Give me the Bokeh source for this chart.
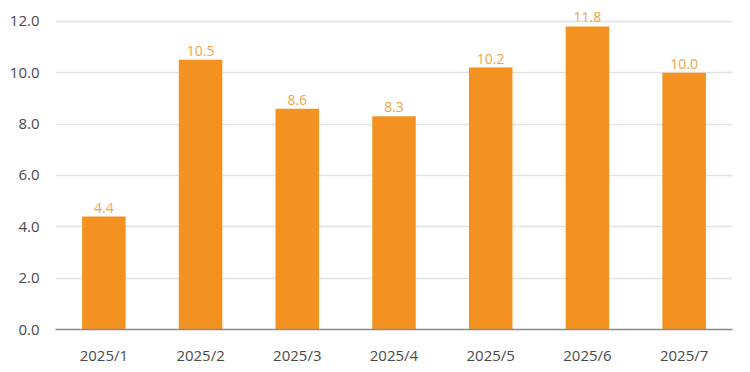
from bokeh.plotting import figure
from bokeh.models import ColumnDataSource, Range1d, FixedTicker, LabelSet, CustomJSTickFormatter
from bokeh.core.properties import value
from bokeh.embed import file_html
from bokeh.resources import INLINE

months = ["2025/1", "2025/2", "2025/3", "2025/4", "2025/5", "2025/6", "2025/7"]
values = [4.4, 10.5, 8.6, 8.3, 10.2, 11.8, 10.0]
y_ticks = [0, 2, 4, 6, 8, 10, 12]

src = ColumnDataSource(dict(x=months, y=values, lbl=[f"{v:.1f}" for v in values]))

p = figure(x_range=months, y_range=Range1d(0, 12.5), width=742, height=367,
           output_backend="svg", toolbar_location=None,
           min_border_left=55, min_border_right=10, min_border_top=8, min_border_bottom=35)
p.outline_line_color = None
p.background_fill_color = "white"

p.vbar(x="x", top="y", width=0.45, source=src, fill_color="#F39121", line_color=None)

labels = LabelSet(x="x", y="y", text="lbl", source=src, text_align="center",
                  text_baseline="bottom", y_offset=4, text_color="#F0A448",
                  text_font=value("Open Sans"), text_font_size="14px", level="overlay")
p.add_layout(labels)

p.yaxis.ticker = FixedTicker(ticks=y_ticks)
p.yaxis.formatter = CustomJSTickFormatter(code="return tick.toFixed(1);")
p.yaxis.axis_line_color = None
p.yaxis.major_tick_line_color = None
p.yaxis.minor_tick_line_color = None
p.yaxis.major_label_text_font = "Open Sans"
p.yaxis.major_label_text_font_size = "15px"
p.yaxis.major_label_text_color = "#4a4a4a"
p.yaxis.major_label_standoff = 10

p.xaxis.axis_line_color = "#8a8a8a"
p.xaxis.axis_line_width = 1.5
p.xaxis.major_tick_line_color = None
p.xaxis.minor_tick_line_color = None
p.xaxis.major_label_text_font = "Open Sans"
p.xaxis.major_label_text_font_size = "15px"
p.xaxis.major_label_text_color = "#4a4a4a"
p.xaxis.major_label_standoff = 9

p.xgrid.grid_line_color = None
p.ygrid.grid_line_color = "#e3e3e3"
p.ygrid.grid_line_width = 1.5

open("out.html", "w").write(file_html(p, INLINE))
